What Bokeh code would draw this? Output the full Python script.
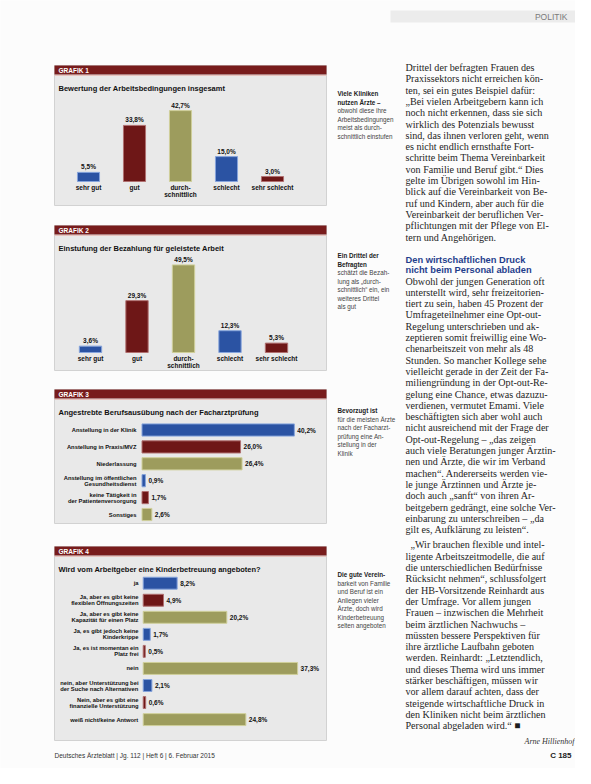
from bokeh.plotting import figure
from bokeh.models import Range1d, ColumnDataSource
from bokeh.core.properties import value
from bokeh.embed import file_html
from bokeh.resources import INLINE

# ---------------- data ----------------
g1_title = "Bewertung der Arbeitsbedingungen insgesamt"
g1_categories = ["sehr gut", "gut", "durch-\nschnittlich", "schlecht", "sehr schlecht"]
g1_values = [5.5, 33.8, 42.7, 15.0, 3.0]

g2_title = "Einstufung der Bezahlung für geleistete Arbeit"
g2_categories = ["sehr gut", "gut", "durch-\nschnittlich", "schlecht", "sehr schlecht"]
g2_values = [3.6, 29.3, 49.5, 12.3, 5.3]

g3_title = "Angestrebte Berufsausübung nach der Facharztprüfung"
g3_categories = ["Anstellung in der Klinik", "Anstellung in Praxis/MVZ", "Niederlassung",
                 "Anstellung im öffentlichen\nGesundheitsdienst",
                 "keine Tätigkeit in\nder Patientenversorgung", "Sonstiges"]
g3_values = [40.2, 26.0, 26.4, 0.9, 1.7, 2.6]

g4_title = "Wird vom Arbeitgeber eine Kinderbetreuung angeboten?"
g4_categories = ["ja", "Ja, aber es gibt keine\nflexiblen Öffnungszeiten",
                 "Ja, aber es gibt keine\nKapazität für einen Platz",
                 "Ja, es gibt jedoch keine\nKinderkrippe",
                 "Ja, es ist momentan ein\nPlatz frei", "nein",
                 "nein, aber Unterstützung bei\nder Suche nach Alternativen",
                 "Nein, aber es gibt eine\nfinanzielle Unterstützung",
                 "weiß nicht/keine Antwort"]
g4_values = [8.2, 4.9, 20.2, 1.7, 0.5, 37.3, 2.1, 0.6, 24.8]

captions = [
    (["Viele Kliniken", "nutzen Ärzte –"], ["obwohl diese ihre", "Arbeitsbedingungen", "meist als durch-", "schnittlich einstufen"]),
    (["Ein Drittel der", "Befragten"], ["schätzt die Bezah-", "lung als „durch-", "schnittlich“ ein, ein", "weiteres Drittel", "als gut"]),
    (["Bevorzugt ist"], ["für die meisten Ärzte", "nach der Facharzt-", "prüfung eine An-", "stellung in der", "Klinik"]),
    (["Die gute Verein-"], ["barkeit von Familie", "und Beruf ist ein", "Anliegen vieler", "Ärzte, doch wird", "Kinderbetreuung", "selten angeboten"]),
]

para1 = ["Drittel der befragten Frauen des",
         "Praxissektors nicht erreichen kön-",
         "ten, sei ein gutes Beispiel dafür:",
         "„Bei vielen Arbeitgebern kann ich",
         "noch nicht erkennen, dass sie sich",
         "wirklich des Potenzials bewusst",
         "sind, das ihnen verloren geht, wenn",
         "es nicht endlich ernsthafte Fort-",
         "schritte beim Thema Vereinbarkeit",
         "von Familie und Beruf gibt.“ Dies",
         "gelte im Übrigen sowohl im Hin-",
         "blick auf die Vereinbarkeit von Be-",
         "ruf und Kindern, aber auch für die",
         "Vereinbarkeit der beruflichen Ver-",
         "pflichtungen mit der Pflege von El-",
         "tern und Angehörigen."]
heading = ["Den wirtschaftlichen Druck", "nicht beim Personal abladen"]
para2 = ["Obwohl der jungen Generation oft",
         "unterstellt wird, sehr freizeitorien-",
         "tiert zu sein, haben 45 Prozent der",
         "Umfrageteilnehmer eine Opt-out-",
         "Regelung unterschrieben und ak-",
         "zeptieren somit freiwillig eine Wo-",
         "chenarbeitszeit von mehr als 48",
         "Stunden. So mancher Kollege sehe",
         "vielleicht gerade in der Zeit der Fa-",
         "miliengründung in der Opt-out-Re-",
         "gelung eine Chance, etwas dazuzu-",
         "verdienen, vermutet Emami. Viele",
         "beschäftigten sich aber wohl auch",
         "nicht ausreichend mit der Frage der",
         "Opt-out-Regelung – „das zeigen",
         "auch viele Beratungen junger Ärztin-",
         "nen und Ärzte, die wir im Verband",
         "machen“. Andererseits werden vie-",
         "le junge Ärztinnen und Ärzte je-",
         "doch auch „sanft“ von ihren Ar-",
         "beitgebern gedrängt, eine solche Ver-",
         "einbarung zu unterschreiben – „da",
         "gilt es, Aufklärung zu leisten“."]
para3 = ["„Wir brauchen flexible und intel-",
         "ligente Arbeitszeitmodelle, die auf",
         "die unterschiedlichen Bedürfnisse",
         "Rücksicht nehmen“, schlussfolgert",
         "der HB-Vorsitzende Reinhardt aus",
         "der Umfrage. Vor allem jungen",
         "Frauen – inzwischen die Mehrheit",
         "beim ärztlichen Nachwuchs –",
         "müssten bessere Perspektiven für",
         "ihre ärztliche Laufbahn geboten",
         "werden. Reinhardt: „Letztendlich,",
         "und dieses Thema wird uns immer",
         "stärker beschäftigen, müssen wir",
         "vor allem darauf achten, dass der",
         "steigende wirtschaftliche Druck in",
         "den Kliniken nicht beim ärztlichen",
         "Personal abgeladen wird.“ ■"]
author = "Arne Hillienhof"
footer_left = "Deutsches Ärzteblatt | Jg. 112 | Heft 6 | 6. Februar 2015"
footer_right = "C 185"
section = "POLITIK"

# ---------------- style ----------------
BLUE, RED, OLIVE = "#2b53a3", "#6e1717", "#9d9c5d"
EDGE = {BLUE: "#86a4dc", RED: "#b07070", OLIVE: "#cfcf9a"}
CYCLE = [BLUE, RED, OLIVE]
SANS = value("Liberation Sans")
SERIF = value("Liberation Serif")
X0, X1, Y0, Y1 = 8, 583, 8, 776

p = figure(width=X1 - X0, height=Y1 - Y0, x_range=Range1d(X0, X1), y_range=Range1d(Y1, Y0),
           output_backend="svg", toolbar_location=None, min_border=0)
p.axis.visible = False
p.grid.visible = False
p.outline_line_color = None
p.background_fill_color = "#fcfcfc"
p.border_fill_color = "#fcfcfc"


def xr(origin, scale):
    return Range1d(start=(X0 - origin) / scale, end=(X1 - origin) / scale)


def yr(origin, scale):
    return Range1d(start=(Y1 - origin) / scale, end=(Y0 - origin) / scale)


def pct(v):
    return f"{v:.1f}".replace(".", ",") + "%"


def panel(top, bottom, number, title):
    p.quad(left=62, right=334, top=top, bottom=bottom, fill_color="#e9e9e9",
           line_color="#d2d2d2", line_width=1)
    p.quad(left=62, right=334, top=top, bottom=top + 9, fill_color="#781c1c", line_color=None)
    p.segment(x0=62, x1=334, y0=top + 10, y1=top + 10, line_color="#e7c3bd", line_width=1)
    p.text(x=[66], y=[top + 4.7], text=[f"GRAFIK {number}"], text_color="white",
           text_font=SANS, text_font_style="bold", text_font_size="6.5px", text_baseline="middle")
    p.text(x=[66], y=[top + 23], text=[title], text_color="#111111", text_font=SANS,
           text_font_style="bold", text_font_size="7.5px", text_baseline="alphabetic")


# ---------------- vertical bar charts ----------------
def vchart(name, cats, vals, xo, dx, base, scale, label_y):
    p.extra_x_ranges[name + "x"] = xr(xo, dx)
    p.extra_y_ranges[name + "y"] = yr(base, -scale)
    cols = [CYCLE[i % 3] if i < 3 else CYCLE[(i - 3) % 2] for i in range(len(cats))]
    src = ColumnDataSource(dict(i=list(range(len(cats))), v=vals, cat=cats,
                                lbl=[pct(v) for v in vals], c=cols,
                                e=[EDGE[c] for c in cols]))
    p.vbar(x="i", top="v", bottom=0, width=0.48, source=src, fill_color="c", line_color="e",
           line_width=1, x_range_name=name + "x", y_range_name=name + "y")
    p.text(x="i", y="v", text="lbl", source=src, x_range_name=name + "x", y_range_name=name + "y",
           y_offset=-2, text_align="center", text_baseline="bottom", text_font=SANS,
           text_font_style="bold", text_font_size="6.5px", text_color="#111111")
    p.text(x="i", y=label_y, text="cat", source=src, x_range_name=name + "x", text_align="center",
           text_baseline="top", text_font=SANS, text_font_style="bold", text_font_size="6.5px",
           text_color="#111111", text_line_height=1.0)


def hchart(name, cats, vals, xo, scale, yo, dy, label_x, h):
    p.extra_x_ranges[name + "x"] = xr(xo, scale)
    p.extra_y_ranges[name + "y"] = yr(yo, dy)
    cols = [CYCLE[i % 3] for i in range(len(cats))]
    src = ColumnDataSource(dict(i=list(range(len(cats))), v=vals, cat=cats,
                                lbl=[pct(v) for v in vals], c=cols,
                                e=[EDGE[c] for c in cols]))
    p.hbar(y="i", right="v", left=0, height=h, source=src, fill_color="c", line_color="e",
           line_width=1, x_range_name=name + "x", y_range_name=name + "y")
    p.text(x="v", y="i", text="lbl", source=src, x_range_name=name + "x", y_range_name=name + "y",
           x_offset=3, text_align="left", text_baseline="middle", text_font=SANS,
           text_font_style="bold", text_font_size="6.5px", text_color="#111111")
    p.text(x=label_x, y="i", text="cat", source=src, y_range_name=name + "y", text_align="right",
           text_baseline="middle", text_font=SANS, text_font_style="bold",
           text_font_size="5.8px", text_color="#111111", text_line_height=1.0)


panel(73, 213, 1, g1_title)
vchart("g1", g1_categories, g1_values, 96, 46, 189, 1.66, 191.5)

panel(233, 378, 2, g2_title)
vchart("g2", g2_categories, g2_values, 98, 46.5, 360, 1.77, 362.5)

panel(397, 531, 3, g3_title)
hchart("g3", g3_categories, g3_values, 149.5, 3.79, 437.5, 16.9, 144, 0.72)

panel(554, 748, 4, g4_title)
hchart("g4", g4_categories, g4_values, 150.7, 4.14, 590.7, 17.05, 146, 0.7)

# ---------------- captions ----------------
for cap, y_start in zip(captions, [101, 263, 418, 582]):
    bold, normal = cap
    ys = [y_start + k * 8.5 for k in range(len(bold) + len(normal))]
    p.text(x=[345] * len(bold), y=ys[:len(bold)], text=bold, text_font=SANS,
           text_font_style="bold", text_font_size="6.3px", text_color="#222222",
           text_baseline="middle")
    p.text(x=[345] * len(normal), y=ys[len(bold):], text=normal, text_font=SANS,
           text_font_size="6.3px", text_color="#444444", text_baseline="middle")

# ---------------- body text column ----------------
LS = 11.3
FS = "10.1px"
p.text(x=[413] * len(para1), y=[75 + k * LS for k in range(len(para1))], text=para1,
       text_font=SERIF, text_font_size=FS, text_color="#1e1e1e", text_baseline="middle")
p.text(x=[413] * 2, y=[267, 277.5], text=heading, text_font=SANS, text_font_style="bold",
       text_font_size="9.3px", text_color="#1f3e8c", text_baseline="middle")
p.text(x=[413] * len(para2), y=[288.5 + k * LS for k in range(len(para2))], text=para2,
       text_font=SERIF, text_font_size=FS, text_color="#1e1e1e", text_baseline="middle")
y3 = 288.5 + len(para2) * LS + 4
p.text(x=[418] + [413] * (len(para3) - 1), y=[y3 + k * LS for k in range(len(para3))], text=para3,
       text_font=SERIF, text_font_size=FS, text_color="#1e1e1e", text_baseline="middle")
p.text(x=[582], y=[749], text=[author], text_font=SERIF, text_font_style="italic",
       text_font_size="8px", text_color="#333333", text_align="right", text_baseline="middle")

# ---------------- header / footer ----------------
p.quad(left=398, right=583, top=18, bottom=30, fill_color="#ececec", line_color=None)
p.text(x=[575], y=[24.5], text=[section], text_font=SANS, text_font_size="8.5px",
       text_color="#7a7a7a", text_align="right", text_baseline="middle")
p.text(x=[62], y=[763], text=[footer_left], text_font=SANS, text_font_size="6.5px",
       text_color="#333333", text_baseline="middle")
p.text(x=[579], y=[763], text=[footer_right], text_font=SANS, text_font_style="bold",
       text_font_size="8px", text_color="#222222", text_align="right", text_baseline="middle")

open("out.html", "w").write(file_html(p, INLINE))
